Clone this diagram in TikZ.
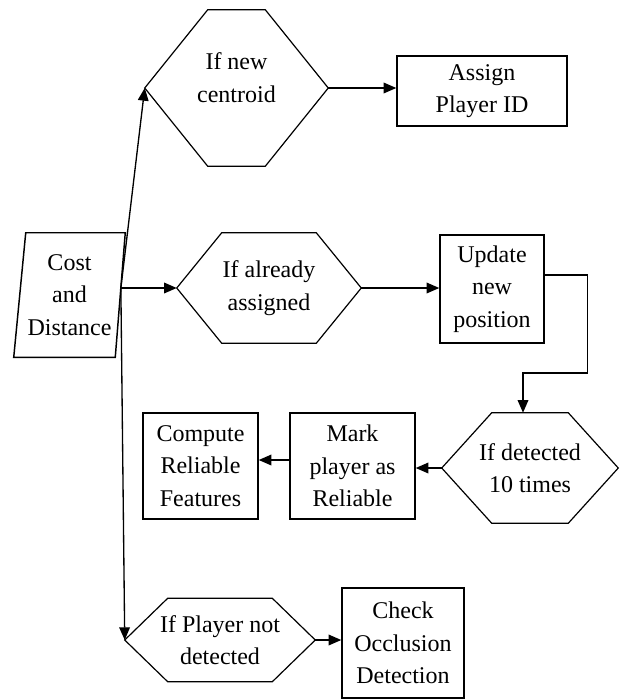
\documentclass[tikz,border=0pt]{standalone}
\usepackage{fontspec}
\setmainfont{Liberation Serif}
\usetikzlibrary{arrows.meta}
\newcommand{\hexline}[2]{\draw [black, line width=0.9pt] (#1.west) -- ([xshift=#2]#1.north west) -- ([xshift=-#2]#1.north east) -- (#1.east) -- ([xshift=-#2]#1.south east) -- ([xshift=#2]#1.south west) -- cycle;}

\begin{document}
\begin{tikzpicture}[x=0.75pt,y=-0.75pt]
	\tikzstyle{every node}+=[inner sep=0pt, align=center, font=\fontsize{18}{24.5}\selectfont]
	\tikzstyle{block}=[draw=black, line width=1.1pt, rectangle]
	\tikzstyle{hexa}=[rectangle]
	\tikzstyle{flow}=[black, line width=1pt, -{Triangle[length=9.5pt,width=8pt]}]
	\useasboundingbox (0,0) rectangle (621,699);
	\node [minimum width=83.25pt, minimum height=93pt] (cost) at (69.5,295) {Cost\\and\\Distance};
	\draw [black, line width=1.1pt] (cost.south west) -- ([xshift=9pt]cost.north west) -- (cost.north east) -- ([xshift=-7.5pt]cost.south east) -- cycle;
	\coordinate (fork) at ([xshift=-3.3pt,yshift=5.25pt]cost.east);
	\node [hexa, minimum width=137.25pt, minimum height=117pt] (newc) at (236.5,88) {};
	\node (newctext) at ([yshift=7.5pt]newc.center) {If new\\centroid};
	\hexline{newc}{47.25pt}
	\node [hexa, minimum width=138pt, minimum height=82.5pt] (assigned) at (269,288) {If already\\assigned};
	\hexline{assigned}{33.75pt}
	\node [hexa, minimum width=132pt, minimum height=82.5pt] (ten) at (530,468) {If detected\\10 times};
	\hexline{ten}{37.5pt}
	\node [hexa, minimum width=142.5pt, minimum height=62.25pt] (notdet) at (220,640) {If Player not\\detected};
	\hexline{notdet}{32.25pt}
	\node [block, minimum width=127.5pt, minimum height=52.5pt] (assign) at (482,91) {Assign\\Player ID};
	\node [block, minimum width=78pt, minimum height=81pt] (update) at (492,289) {Update\\new\\position};
	\node [block, minimum width=93.75pt, minimum height=79.5pt] (mark) at (352.5,466) {Mark\\player as\\Reliable};
	\node [block, minimum width=86.25pt, minimum height=79.5pt] (compute) at (200.5,466) {Compute\\Reliable\\Features};
	\node [block, minimum width=91.5pt, minimum height=82.5pt] (check) at (403,643) {Check\\Occlusion\\Detection};
	\draw [flow] (fork) -- (newc.west);
	\draw [flow] (fork) -- (assigned.west);
	\draw [flow] (fork) -- (notdet.west);
	\draw [flow] (newc.east) -- (newc.east -| assign.west);
	\draw [flow] (assigned.east) -- (assigned.east -| update.west);
	\draw [flow] ([yshift=10.5pt]update.east) -- ++(43,0) -- ++(0,98) -| ([xshift=-5.25pt]ten.north);
	\draw [flow] (ten.west) -- (ten.west -| mark.east);
	\draw [flow] ([yshift=4.5pt]mark.west) -- ([yshift=4.5pt]mark.west -| compute.east);
	\draw [flow] (notdet.east) -- (notdet.east -| check.west);
\end{tikzpicture}
\end{document}
